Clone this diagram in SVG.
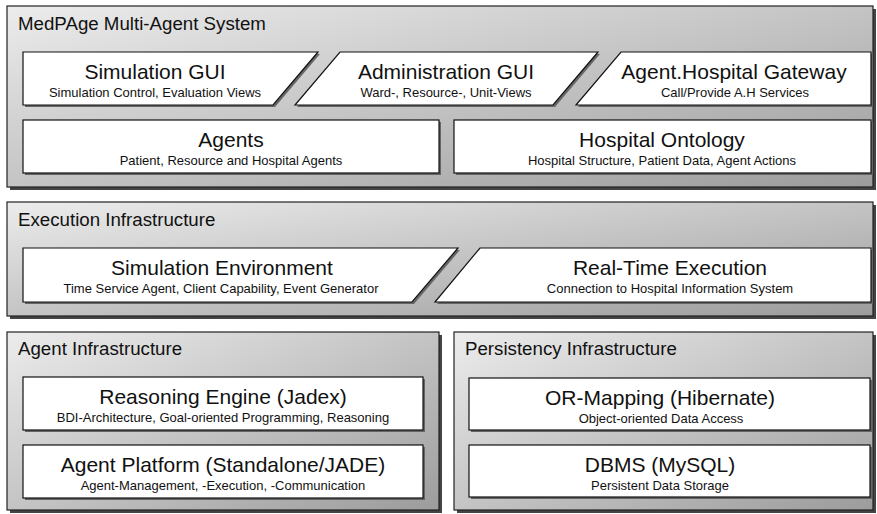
<svg xmlns="http://www.w3.org/2000/svg" width="877" height="514" viewBox="0 0 877 514">
<defs>
<linearGradient id="g" x1="0" y1="0" x2="1" y2="1">
<stop offset="0" stop-color="#ececec"/>
<stop offset="1" stop-color="#9c9c9c"/>
</linearGradient>
</defs>
<style>
.cont{fill:url(#g);stroke:#222;stroke-width:1.2}
.csh{fill:#444}
.box{fill:#fff;stroke:#111;stroke-width:1.2}
.bsh{fill:#666}
text{font-family:"Liberation Sans",Arial,sans-serif;fill:#111}
.ct{font-size:18.7px}
.bt{font-size:21px;text-anchor:middle}
.bs{font-size:13px;text-anchor:middle}
</style>
<rect width="877" height="514" fill="#fff"/>
<g id="medpage">
<rect class="csh" x="10" y="9" width="866" height="181"/>
<rect class="cont" x="7" y="6" width="866" height="181"/>
<text class="ct" x="18" y="30">MedPAge Multi-Agent System</text>
</g>
<g id="simgui">
<polygon class="bsh" points="25,54 320,54 275,107 25,107"/>
<polygon class="box" points="23,52 318,52 273,105 23,105"/>
<text class="bt" x="155" y="79">Simulation GUI</text>
<text class="bs" x="155" y="97">Simulation Control, Evaluation Views</text>
</g>
<g id="admingui">
<polygon class="bsh" points="342,54 600,54 555,107 297,107"/>
<polygon class="box" points="340,52 598,52 553,105 295,105"/>
<text class="bt" x="446" y="79">Administration GUI</text>
<text class="bs" x="446" y="97">Ward-, Resource-, Unit-Views</text>
</g>
<g id="gateway">
<polygon class="bsh" points="623,54 873,54 873,107 578,107"/>
<polygon class="box" points="621,52 871,52 871,105 576,105"/>
<text class="bt" x="734" y="79">Agent.Hospital Gateway</text>
<text class="bs" x="735" y="97">Call/Provide A.H Services</text>
</g>
<g id="agents">
<rect class="bsh" x="25" y="122" width="416" height="53"/>
<rect class="box" x="23" y="120" width="416" height="53"/>
<text class="bt" x="231" y="147">Agents</text>
<text class="bs" x="231" y="165">Patient, Resource and Hospital Agents</text>
</g>
<g id="ontology">
<rect class="bsh" x="456" y="122" width="417" height="53"/>
<rect class="box" x="454" y="120" width="417" height="53"/>
<text class="bt" x="662" y="147">Hospital Ontology</text>
<text class="bs" x="662" y="165">Hospital Structure, Patient Data, Agent Actions</text>
</g>
<g id="execution">
<rect class="csh" x="10" y="205" width="866" height="114"/>
<rect class="cont" x="7" y="202" width="866" height="114"/>
<text class="ct" x="18" y="226">Execution Infrastructure</text>
</g>
<g id="simenv">
<polygon class="bsh" points="25,250 460,250 414,304 25,304"/>
<polygon class="box" points="23,248 458,248 412,302 23,302"/>
<text class="bt" x="222" y="275">Simulation Environment</text>
<text class="bs" x="221" y="293">Time Service Agent, Client Capability, Event Generator</text>
</g>
<g id="realtime">
<polygon class="bsh" points="482,250 873,250 873,304 437,304"/>
<polygon class="box" points="480,248 871,248 871,302 435,302"/>
<text class="bt" x="670" y="275">Real-Time Execution</text>
<text class="bs" x="670" y="293">Connection to Hospital Information System</text>
</g>
<g id="agentinfra">
<rect class="csh" x="10" y="335" width="432" height="178"/>
<rect class="cont" x="7" y="332" width="432" height="178"/>
<text class="ct" x="18" y="355">Agent Infrastructure</text>
</g>
<g id="reasoning">
<rect class="bsh" x="25" y="379" width="400" height="53"/>
<rect class="box" x="23" y="377" width="400" height="53"/>
<text class="bt" x="223" y="404">Reasoning Engine (Jadex)</text>
<text class="bs" x="223" y="422">BDI-Architecture, Goal-oriented Programming, Reasoning</text>
</g>
<g id="platform">
<rect class="bsh" x="25" y="447" width="400" height="53"/>
<rect class="box" x="23" y="445" width="400" height="53"/>
<text class="bt" x="223" y="472">Agent Platform (Standalone/JADE)</text>
<text class="bs" x="223" y="490">Agent-Management, -Execution, -Communication</text>
</g>
<g id="persistency">
<rect class="csh" x="457" y="335" width="419" height="178"/>
<rect class="cont" x="454" y="332" width="419" height="178"/>
<text class="ct" x="465" y="355">Persistency Infrastructure</text>
</g>
<g id="ormapping">
<rect class="bsh" x="471" y="380" width="401" height="52"/>
<rect class="box" x="469" y="378" width="401" height="52"/>
<text class="bt" x="660" y="405">OR-Mapping (Hibernate)</text>
<text class="bs" x="661" y="423">Object-oriented Data Access</text>
</g>
<g id="dbms">
<rect class="bsh" x="471" y="447" width="401" height="52"/>
<rect class="box" x="469" y="445" width="401" height="52"/>
<text class="bt" x="660" y="472">DBMS (MySQL)</text>
<text class="bs" x="660" y="490">Persistent Data Storage</text>
</g>
<g id="connectors"></g>
</svg>
